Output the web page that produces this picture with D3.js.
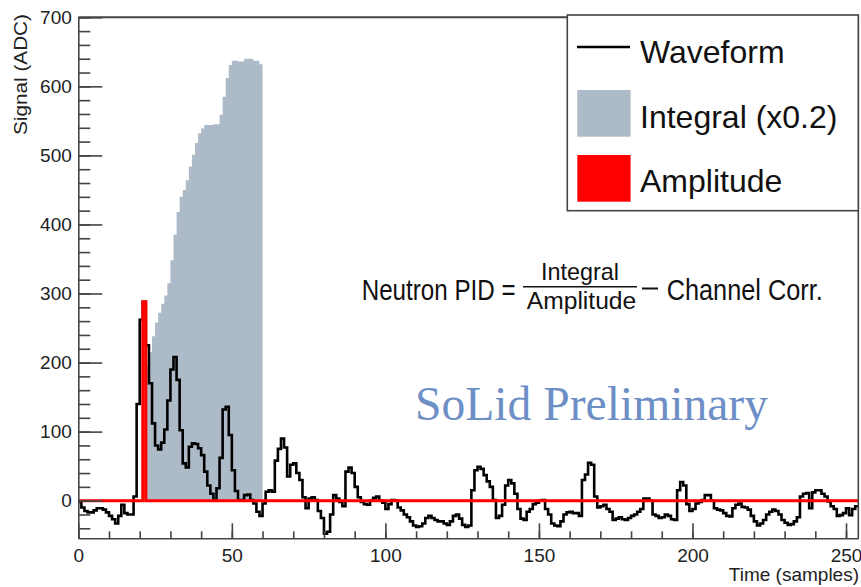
<!DOCTYPE html>
<html>
<head>
<meta charset="utf-8">
<script src="https://cdn.jsdelivr.net/npm/d3@7"></script>
<style>
body{margin:0;background:#fff}
</style>
</head>
<body>
<svg id="chart" width="861" height="587" font-family='"Liberation Sans",Arial,Helvetica,sans-serif'></svg>
<script>
// waveform, one value per sample (ADC)
var waveform = [
	-2,-10,-15,-17,-17,-14,-11,-11,-13,-17,-22,-27,-33,-22,-6,-18,-20,-20,6,
	140,262,288,225,170,112,80,74,84,103,145,
	190,208,175,102,54,48,78,83,82,76,
	66,42,22,10,1,18,62,132,136,95,
	44,14,1,1,8,9,1,-4,-16,-22,
	-4,13,15,13,58,75,90,77,35,52,
	54,40,30,5,-11,3,5,1,-15,-25,
	-48,-45,-20,8,3,-2,-8,42,48,40,
	20,5,-2,-5,-6,0,4,6,0,-3,
	-12,-5,1,0,-10,-14,-20,-24,-30,-36,
	-38,-37,-33,-25,-22,-25,-28,-30,-30,-33,
	-35,-30,-22,-20,-26,-35,-38,-36,15,44,
	49,46,37,28,20,1,-25,-22,-6,22,
	30,25,10,-12,-26,-28,-16,-12,-5,-3,
	0,1,-12,-20,-33,-36,-37,-30,-20,-17,
	-16,-18,-18,-22,30,38,55,52,6,-10,
	-8,-6,-12,-16,-28,-26,-24,-27,-28,-25,
	-22,-20,-16,-12,3,3,0,-20,-22,-25,
	-24,-20,-22,-27,-28,15,27,22,-5,-15,
	-12,-4,-2,1,8,8,0,-11,-13,-14,
	-18,-22,-23,-11,-6,-4,-9,-10,-13,-22,
	-30,-36,-33,-28,-20,-16,-13,-15,-20,-28,
	-32,-35,-34,-30,-24,6,10,11,-11,12,
	15,15,10,6,-1,-8,-12,-22,-21,-18,
	-11,-21,-12,-8
]
// integral x0.2, from sample 22 to 59
var integralStart = 22
var integral = [
	195,215,238,258,272,285,297,315,348,385,
	418,440,450,464,484,501,518,532,539,544,
	544,544,545,545,559,585,612,631,637,637,
	636,636,640,640,640,637,637,632
]
var amplitudeBin = 21
var amplitudeValue = 288
var xMajor = [0,50,100,150,200,250]
var yMajor = [0,100,200,300,400,500,600,700]
var legendLabels = ['Waveform','Integral (x0.2)','Amplitude']
var legendColors = ['#000','#adbac7','#ff0000']

var svg = d3.select('#chart')
var x = d3.scaleLinear().domain([0,254]).range([78.3,858.3])
var y = d3.scaleLinear().domain([-54.5,700]).range([538.3,17.3])

svg.append('clipPath').attr('id','plot')
	.append('rect').attr('x',78.3).attr('y',17.3).attr('width',780).attr('height',521)

function steps(vals, start){
	var pts = []
	vals.forEach(function(v,i){
		pts.push([start+i,v])
		pts.push([start+i+1,v])
	})
	return pts
}

var g = svg.append('g').attr('clip-path','url(#plot)')

var area = d3.area()
	.x(function(d){return x(d[0])})
	.y0(y(0))
	.y1(function(d){return y(d[1])})
g.append('path')
	.attr('d', area(steps(integral, integralStart)))
	.attr('fill', legendColors[1])

var line = d3.line()
	.x(function(d){return x(d[0])})
	.y(function(d){return y(d[1])})
g.append('path')
	.attr('d', line(steps(waveform, 0)))
	.attr('fill','none')
	.attr('stroke','#000')
	.attr('stroke-width',2.6)

var amp = waveform.map(function(v,i){ return i === amplitudeBin ? amplitudeValue : 0 })
g.append('path')
	.attr('d', line(steps(amp, 0)))
	.attr('fill','none')
	.attr('stroke','#ff0000')
	.attr('stroke-width',3)

// axes
var axisColor = '#444'
function styleAxis(sel){
	sel.attr('font-family','"Liberation Sans",Arial,sans-serif')
	sel.selectAll('path,line').attr('stroke',axisColor).attr('stroke-width',1.6)
	sel.selectAll('text').attr('fill','#222').attr('font-size','19px')
}

svg.append('g').attr('transform','translate(78.3,0)')
	.call(d3.axisLeft(y).tickValues(d3.range(-40,701,20)).tickSizeInner(-12).tickSizeOuter(0).tickFormat(''))
	.call(styleAxis)
svg.append('g').attr('transform','translate(78.3,0)')
	.call(d3.axisLeft(y).tickValues(yMajor).tickSizeInner(-24).tickSizeOuter(0).tickPadding(6.5))
	.call(styleAxis)
	.select('.domain').remove()

svg.append('g').attr('transform','translate(0,538.3)')
	.call(d3.axisBottom(x).tickValues(d3.range(0,255,10)).tickSizeInner(-7).tickSizeOuter(0).tickFormat(''))
	.call(styleAxis)
svg.append('g').attr('transform','translate(0,538.3)')
	.call(d3.axisBottom(x).tickValues(xMajor).tickSizeInner(-15).tickSizeOuter(0).tickPadding(10))
	.call(styleAxis)
	.select('.domain').remove()

svg.append('line').attr('x1',78.3).attr('x2',858.3).attr('y1',17.3).attr('y2',17.3)
	.attr('stroke',axisColor).attr('stroke-width',2)
svg.append('line').attr('x1',858.3).attr('x2',858.3).attr('y1',17.3).attr('y2',538.3)
	.attr('stroke',axisColor).attr('stroke-width',1.6)

svg.append('text')
	.attr('transform','translate(27,135) rotate(-90)')
	.attr('font-size','19px').attr('fill','#222')
	.attr('textLength',121).attr('lengthAdjust','spacingAndGlyphs')
	.text('Signal (ADC)')
svg.append('text')
	.attr('x',859).attr('y',581).attr('text-anchor','end')
	.attr('font-size','19px').attr('fill','#222')
	.text('Time (samples)')

// legend
var lg = svg.append('g')
lg.append('rect').attr('x',567.3).attr('y',15).attr('width',291).attr('height',195.7)
	.attr('fill','#fff').attr('stroke',axisColor).attr('stroke-width',1.6)
lg.append('line').attr('x1',577).attr('x2',630).attr('y1',47).attr('y2',47)
	.attr('stroke','#000').attr('stroke-width',2.5)
lg.append('rect').attr('x',577.3).attr('y',90).attr('width',53.3).attr('height',46.7).attr('fill',legendColors[1])
lg.append('rect').attr('x',577.3).attr('y',155).attr('width',53.3).attr('height',46.7).attr('fill',legendColors[2])
var baselines = [63.3,128.3,191.7]
lg.selectAll('text.lab').data(legendLabels).enter().append('text')
	.attr('class','lab')
	.attr('x',640).attr('y',function(d,i){return baselines[i]})
	.attr('font-size','32px').attr('fill','#111')
	.text(function(d){return d})

// formula (narrow, tall glyphs as in the original)
var f = svg.append('g').attr('fill','#111')
f.append('text').attr('transform','translate(361.7,300) scale(1,1.2)')
	.attr('font-size','24.2px')
	.text('Neutron PID =')
f.append('text').attr('x',580).attr('y',280).attr('font-size','23.4px').attr('text-anchor','middle')
	.text('Integral')
f.append('line').attr('x1',523).attr('x2',637).attr('y1',286.7).attr('y2',286.7)
	.attr('stroke','#111').attr('stroke-width',1.6)
f.append('text').attr('x',581.5).attr('y',309).attr('font-size','24.6px').attr('text-anchor','middle')
	.text('Amplitude')
f.append('line').attr('x1',642).attr('x2',658).attr('y1',288.5).attr('y2',288.5)
	.attr('stroke','#111').attr('stroke-width',2)
f.append('text').attr('transform','translate(666.7,300) scale(1,1.2)')
	.attr('font-size','25.3px')
	.text('Channel Corr.')

svg.append('text')
	.attr('x',415).attr('y',419.5)
	.attr('font-family','"Liberation Serif","Times New Roman",serif')
	.attr('font-size','47.5px').attr('fill','#6d8fc6')
	.attr('textLength',353).attr('lengthAdjust','spacingAndGlyphs')
	.text('SoLid Preliminary')
</script>
</body>
</html>
